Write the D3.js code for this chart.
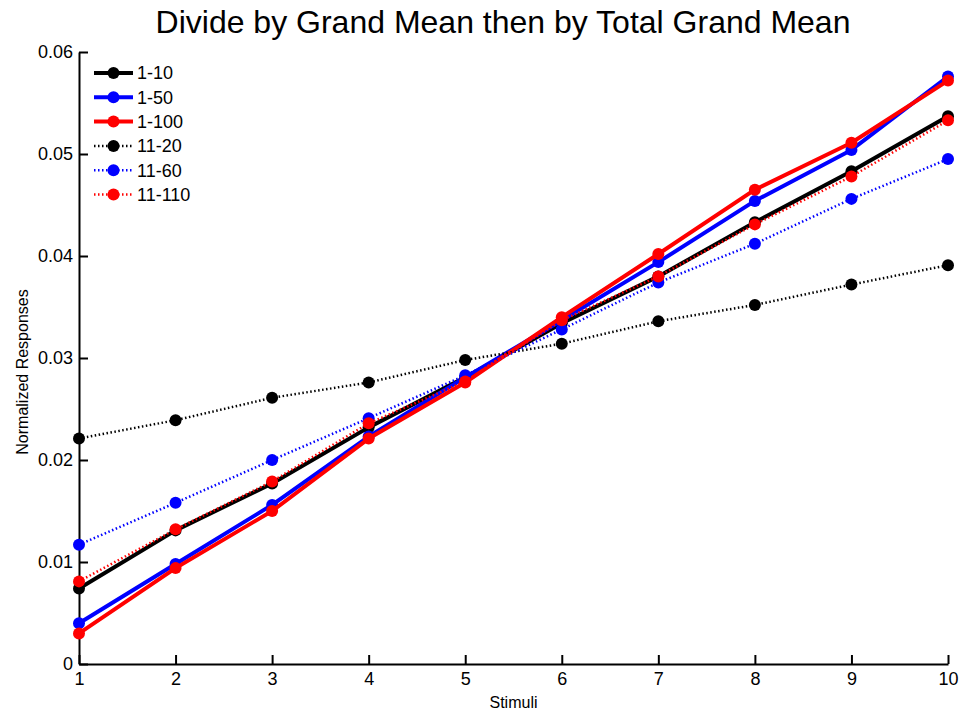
<!DOCTYPE html>
<html>
<head>
<meta charset="utf-8">
<script src="https://d3js.org/d3.v7.min.js"></script>
<style>
  body { margin: 0; background: #fff; }
  text { font-family: "Liberation Sans", Arial, sans-serif; }
</style>
</head>
<body>
<svg id="chart" width="962" height="713"></svg>
<script>
var stimuli = [1, 2, 3, 4, 5, 6, 7, 8, 9, 10];
var yTicks = [0, 0.01, 0.02, 0.03, 0.04, 0.05, 0.06];
var seriesNames = ["1-10", "1-50", "1-100", "11-20", "11-60", "11-110"];
var seriesColors = ["#000000", "#0000ff", "#ff0000", "#000000", "#0000ff", "#ff0000"];
var seriesDotted = [false, false, false, true, true, true];

var r1_10   = [0.0074, 0.0131, 0.0177, 0.0232, 0.0281, 0.0334, 0.0380, 0.0433, 0.0483, 0.0537];
var r1_50   = [0.0040, 0.0098, 0.0156, 0.0223, 0.0281, 0.0337, 0.0394, 0.0454, 0.0504, 0.0576];
var r1_100  = [0.0030, 0.0094, 0.0150, 0.0221, 0.0276, 0.0340, 0.0402, 0.0465, 0.0511, 0.0572];
var r11_20  = [0.0221, 0.0239, 0.0261, 0.0276, 0.0298, 0.0314, 0.0336, 0.0352, 0.0372, 0.0391];
var r11_60  = [0.0117, 0.0158, 0.0200, 0.0241, 0.0283, 0.0328, 0.0374, 0.0412, 0.0456, 0.0495];
var r11_110 = [0.0081, 0.0132, 0.0179, 0.0236, 0.0277, 0.0337, 0.0380, 0.0431, 0.0478, 0.0533];
var seriesValues = [r1_10, r1_50, r1_100, r11_20, r11_60, r11_110];

var svg = d3.select("#chart");
var margin = {left: 79, right: 14, top: 52, bottom: 49};
var width = 962 - margin.left - margin.right,
    height = 713 - margin.top - margin.bottom;

var x = d3.scaleLinear().domain([1, 10]).range([0, width]);
var y = d3.scaleLinear().domain([0, 0.06]).range([height, 0]);

var g = svg.append("g")
    .attr("transform", "translate(" + margin.left + "," + margin.top + ")");

// axes, ticks pointing inward like matlab
var xAxis = g.append("g")
    .attr("transform", "translate(0," + height + ")")
    .call(d3.axisBottom(x).tickValues(stimuli).tickFormat(d3.format("d")).tickSizeInner(-9).tickSizeOuter(0).tickPadding(8));
var yAxis = g.append("g")
    .call(d3.axisLeft(y).tickValues(yTicks).tickFormat(function(d) { return d === 0 ? "0" : d3.format(".2f")(d); }).tickSizeInner(-9).tickSizeOuter(0).tickPadding(6));

[xAxis, yAxis].forEach(function(a) {
  a.selectAll("path").attr("stroke", "#000").attr("stroke-width", 2);
  a.selectAll("line").attr("stroke", "#000").attr("stroke-width", 2);
  a.selectAll("text").attr("fill", "#000").style("font-size", "18px")
    .style("font-family", "'Liberation Sans', Arial, sans-serif");
});

var line = d3.line()
    .x(function(d, i) { return x(stimuli[i]); })
    .y(function(d) { return y(d); });

seriesValues.forEach(function(vals, k) {
  var s = g.append("g");
  s.append("path")
    .datum(vals)
    .attr("fill", "none")
    .attr("stroke", seriesColors[k])
    .attr("stroke-width", seriesDotted[k] ? 2.5 : 4)
    .attr("stroke-dasharray", seriesDotted[k] ? "1.5,2.5" : null)
    .attr("stroke-linejoin", "round")
    .attr("d", line);
  s.selectAll("circle")
    .data(vals)
    .enter().append("circle")
      .attr("cx", function(d, i) { return x(stimuli[i]); })
      .attr("cy", function(d) { return y(d); })
      .attr("r", 6)
      .attr("fill", seriesColors[k]);
});

// legend
var legend = g.append("g").attr("transform", "translate(15,21)");
seriesNames.forEach(function(name, k) {
  var row = legend.append("g").attr("transform", "translate(0," + (k * 24.3) + ")");
  row.append("line")
    .attr("x1", 0).attr("x2", 39).attr("y1", 0).attr("y2", 0)
    .attr("stroke", seriesColors[k])
    .attr("stroke-width", seriesDotted[k] ? 2.5 : 4)
    .attr("stroke-dasharray", seriesDotted[k] ? "1.5,2.5" : null);
  row.append("circle").attr("cx", 19.5).attr("cy", 0).attr("r", 6).attr("fill", seriesColors[k]);
  row.append("text").attr("x", 43).attr("y", 0).attr("dy", "0.35em")
    .style("font-size", "18px").text(name);
});

svg.append("text")
    .attr("x", 503)
    .attr("y", 33)
    .attr("text-anchor", "middle")
    .style("font-size", "32px")
    .text("Divide by Grand Mean then by Total Grand Mean");

svg.append("text")
    .attr("x", margin.left + width / 2)
    .attr("y", 708)
    .attr("text-anchor", "middle")
    .style("font-size", "16px")
    .text("Stimuli");

svg.append("text")
    .attr("transform", "translate(28,372) rotate(-90)")
    .attr("text-anchor", "middle")
    .style("font-size", "16px")
    .text("Normalized Responses");
</script>
</body>
</html>
